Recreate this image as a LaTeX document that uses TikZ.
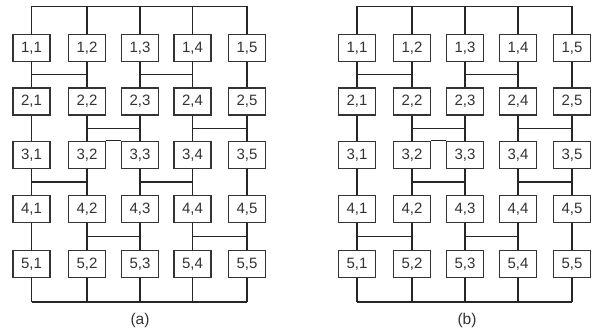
\documentclass[tikz,border=0pt]{standalone}
\usepackage{fontspec}
\setmainfont{Liberation Sans}
\usetikzlibrary{calc}
\tikzset{
  pe/.style={draw=black!80, line width=1.6pt, minimum width=37pt, minimum height=27pt, inner sep=0pt, font=\fontsize{15}{16}\selectfont, text=black!80},
  wire/.style={draw=black!85, line width=1.3pt},
  captext/.style={font=\fontsize{15.5}{16}\selectfont, text=black!80}
}
\newcommand{\hlnk}[4]{% panel, row, col i, col j
  \pgfmathtruncatemacro{\rn}{#2+1}
  \draw[wire] (#1#2#3.south) -- (#1\rn#3.north);
  \draw[wire] (#1#2#4.south) -- (#1\rn#4.north);
  \draw[wire] ($(#1#2#3.south)!.5!(#1\rn#3.north)$) -- ($(#1#2#4.south)!.5!(#1\rn#4.north)$);
}
\newcommand{\vlnk}[3]{% panel, row, col
  \pgfmathtruncatemacro{\rn}{#2+1}
  \draw[wire] (#1#2#3.south) -- (#1\rn#3.north);
}
\begin{document}
\begin{tikzpicture}[x=1pt,y=-1pt]
\useasboundingbox (0,0) rectangle (601,334);
% panel nodes
\foreach \p/\xs in {a/{31.5,87,140,192.5,247}, b/{357,412,465,518,572}}{
  \foreach \c [count=\j] in \xs {
    \foreach \r/\y in {1/48,2/101.5,3/155,4/209,5/264}{
      \node[pe] (\p\r\j) at (\c,\y) {\r,\j};
    }
    \coordinate (\p t\j) at (\c,6.5);
    \coordinate (\p b\j) at (\c,302);
  }
}
\foreach \p in {a,b}{
  \draw[wire] (\p t1) -- (\p t5);
  \draw[wire] (\p b1) -- (\p b5);
  \foreach \j in {1,...,5}{
    \draw[wire] (\p t\j) -- (\p1\j.north);
    \draw[wire] (\p b\j) -- (\p5\j.south);
  }
  \draw[wire] (\p32.north east) -- (\p33.north west);
}
% panel (a)
\hlnk{a}{1}{1}{2} \hlnk{a}{1}{3}{4} \vlnk{a}{1}{5}
\vlnk{a}{2}{1} \hlnk{a}{2}{2}{3} \hlnk{a}{2}{4}{5}
\hlnk{a}{3}{1}{2} \hlnk{a}{3}{3}{4} \vlnk{a}{3}{5}
\vlnk{a}{4}{1} \hlnk{a}{4}{2}{3} \hlnk{a}{4}{4}{5}
% panel (b)
\hlnk{b}{1}{1}{2} \hlnk{b}{1}{3}{4} \vlnk{b}{1}{5}
\vlnk{b}{2}{1} \hlnk{b}{2}{2}{3} \hlnk{b}{2}{4}{5}
\vlnk{b}{3}{1} \hlnk{b}{3}{2}{3} \hlnk{b}{3}{4}{5}
\hlnk{b}{4}{1}{2} \hlnk{b}{4}{3}{4} \vlnk{b}{4}{5}
\node[captext] (capa) at (140,320) {(a)};
\node[captext] (capb) at (467,320) {(b)};
\end{tikzpicture}
\end{document}
